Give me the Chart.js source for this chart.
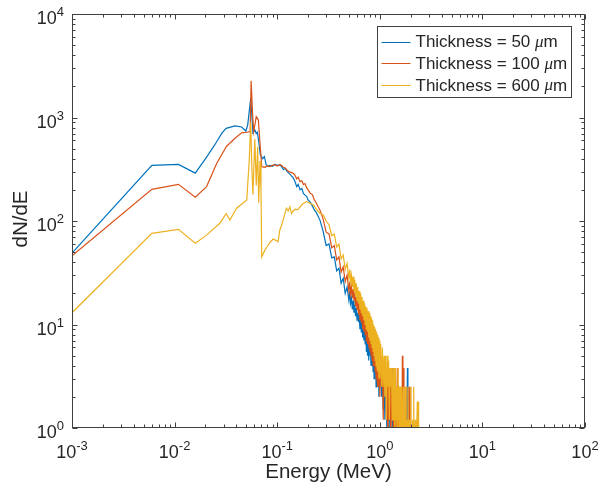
<!DOCTYPE html>
<html>
<head>
<meta charset="utf-8">
<script src="https://cdn.jsdelivr.net/npm/chart.js@4.4.0/dist/chart.umd.min.js"></script>
<style>
  html, body { margin: 0; padding: 0; background: #fff; }
  #wrap { width: 601px; height: 492px; }
</style>
</head>
<body>
<div id="wrap"><canvas id="chart" width="601" height="492"></canvas></div>
<script>
// Energy spectra (E in MeV, dN/dE)
const thicknesses = [50, 100, 600];
const seriesColors = ['#0072BD', '#D95319', '#EDB120'];

// low-energy part, one grid per thickness
const energy50 = [0.001, 0.006, 0.0109, 0.0159, 0.0205, 0.0245, 0.029, 0.0318, 0.0388, 0.045, 0.0495, 0.0516, 0.0552, 0.0565, 0.058, 0.0605, 0.0625, 0.064, 0.066, 0.0685, 0.072, 0.075, 0.078, 0.082, 0.086, 0.09, 0.095, 0.1, 0.106, 0.11, 0.115, 0.12, 0.125, 0.13, 0.136, 0.142, 0.148, 0.155, 0.16, 0.167, 0.174, 0.18, 0.187, 0.194, 0.2, 0.21, 0.22, 0.23, 0.24, 0.25, 0.261];
const counts50 = [49, 345, 352, 290, 415, 540, 710, 785, 830, 810, 740, 850, 1530, 1100, 710, 760, 700, 720, 590, 435, 400, 420, 350, 340, 345, 338, 352, 345, 348, 335, 315, 322, 300, 290, 276, 265, 245, 215, 226, 200, 206, 185, 178, 172, 160, 152, 140, 128, 121, 112, 102];

const energy100 = [0.001, 0.006, 0.0109, 0.0159, 0.0205, 0.0257, 0.032, 0.0388, 0.045, 0.0505, 0.0545, 0.0557, 0.0575, 0.059, 0.0625, 0.0655, 0.068, 0.0707, 0.076, 0.08, 0.085, 0.09, 0.095, 0.1, 0.106, 0.11, 0.115, 0.12, 0.125, 0.13, 0.136, 0.142, 0.148, 0.155, 0.16, 0.167, 0.174, 0.18, 0.187, 0.194, 0.2, 0.21, 0.22, 0.23, 0.24, 0.25, 0.261];
const counts100 = [46, 202, 226, 170, 215, 360, 525, 630, 710, 720, 730, 2270, 1100, 730, 1020, 950, 560, 335, 330, 340, 335, 345, 350, 340, 350, 345, 330, 325, 310, 300, 295, 290, 280, 255, 265, 240, 245, 225, 230, 209, 200, 185, 180, 160, 150, 138, 128];

const energy600 = [0.001, 0.006, 0.0109, 0.0159, 0.0205, 0.0276, 0.0318, 0.0346, 0.0402, 0.0505, 0.0535, 0.0552, 0.0565, 0.058, 0.0605, 0.0625, 0.0645, 0.066, 0.068, 0.0695, 0.0707, 0.0757, 0.08, 0.085, 0.0913, 0.097, 0.102, 0.106, 0.11, 0.115, 0.123, 0.128, 0.133, 0.138, 0.143, 0.15, 0.158, 0.167, 0.175, 0.185, 0.194, 0.2, 0.21, 0.226, 0.24, 0.25, 0.261];
const counts600 = [13, 76, 83, 61, 73, 95, 118, 102, 133, 160, 400, 900, 350, 180, 620, 220, 520, 150, 380, 200, 45, 52, 57, 62, 67, 65, 63, 82, 90, 105, 133, 125, 137, 118, 125, 130, 128, 137, 145, 150, 154, 152, 148, 143, 130, 125, 118];

// noisy high-energy tail on a shared grid (0.5 = empty bin, drops below the axis)
const tailEnergy = [
    0.28, 0.30, 0.32, 0.34, 0.36, 0.38, 0.40, 0.42, 0.44, 0.46, 0.48,
    0.50, 0.51, 0.52, 0.53, 0.54, 0.55, 0.56, 0.57, 0.58, 0.59,
    0.60, 0.61, 0.62, 0.63, 0.64, 0.65, 0.66, 0.67, 0.68, 0.69,
    0.70, 0.71, 0.72, 0.73, 0.74, 0.75, 0.76, 0.77, 0.78, 0.79,
    0.80, 0.81, 0.82, 0.83, 0.84, 0.85, 0.86, 0.87, 0.88, 0.89,
    0.90, 0.91, 0.92, 0.93, 0.94, 0.95, 0.96, 0.97, 0.98, 0.99,
    1.00, 1.02, 1.04, 1.06, 1.08, 1.10, 1.12, 1.14, 1.16, 1.18,
    1.20, 1.22, 1.24, 1.26, 1.28, 1.30, 1.32, 1.34, 1.36, 1.38,
    1.40, 1.42, 1.44, 1.46, 1.48, 1.50, 1.52, 1.54, 1.56, 1.58,
    1.60, 1.62, 1.64, 1.66, 1.68, 1.70, 1.72, 1.74, 1.76, 1.78,
    1.80, 1.82, 1.84, 1.86, 1.88, 1.90, 1.92, 1.94, 1.96, 1.98,
    2.00, 2.02, 2.04, 2.06, 2.08, 2.10, 2.12, 2.14, 2.16, 2.18,
    2.20, 2.22, 2.24, 2.26, 2.28, 2.30, 2.32, 2.34, 2.36, 2.38,
    2.40, 2.42, 2.44
];
const tail50 = [
    80, 58, 60, 44, 45, 33, 35, 25, 28, 20, 23,
    17, 21, 16, 18, 14, 17, 13, 15.5, 12, 14.5,
    11, 13, 10.5, 12.5, 9, 11.5, 8.5, 10.5, 7.5, 9.5,
    7, 9, 6.5, 8.5, 5.5, 8, 5, 7.5, 4.5, 7,
    5, 6.5, 4, 6.5, 4, 6, 3.5, 5.5, 3, 5.5,
    3.5, 5, 2.5, 5, 3, 4.5, 2.5, 4.5, 2, 4,
    2.5, 4, 2, 3.5, 1.5, 3.5, 1.2, 3, 2, 0.5,
    3, 1.2, 2.5, 0.5, 2.5, 1.2, 3.8, 0.5, 2.5, 0.5,
    1.2, 2.5, 0.5, 1.2, 0.5, 2.5, 0.5, 0.5, 1.2, 0.5,
    0.5, 1.2, 0.5, 0.5, 2.5, 0.5, 0.5, 0.5, 1.2, 0.5,
    0.5, 0.5, 0.5, 3.8, 0.5
];
const tail100 = [
    105, 78, 75, 55, 58, 42, 45, 32, 36, 26, 30,
    21, 26, 20, 23, 18, 22, 17, 20, 15, 18.5,
    14, 17, 12.5, 16, 11, 14.5, 10.5, 14, 9, 13,
    8.5, 12, 8, 11, 7, 11, 6.5, 10, 6, 9.5,
    5.5, 9, 5, 8.5, 4.5, 8.5, 4, 7.5, 4, 7,
    3.5, 7, 3, 6.5, 3, 6, 2.5, 6, 2.5, 5.5,
    2, 5, 2.5, 4.5, 1.2, 4.5, 2.5, 3.8, 1.2, 3.8,
    0.5, 3.8, 1.2, 3.8, 0.5, 2.5, 1.2, 3.8, 0.5, 2.5,
    1.2, 0.5, 2.5, 0.5, 3.8, 0.5, 1.2, 2.5, 0.5, 1.2,
    0.5, 2.5, 0.5, 5, 0.5, 3.8, 0.5, 1.2, 0.5, 0.5,
    2.5, 0.5, 0.5, 1.2, 0.5, 0.5, 2.5, 0.5, 0.5, 2.5,
    0.5
];
const tail600 = [
    115, 100, 92, 72, 75, 56, 60, 43, 47, 34, 39,
    28, 34, 26, 30, 23, 29, 21, 27, 19, 25,
    17, 23, 16, 21, 14, 20, 13, 18.5, 12, 17,
    11, 16, 10, 15, 9, 14.5, 8.5, 13.5, 7.5, 13,
    7, 12, 6.5, 11.5, 6, 11, 5.5, 10, 5, 9.5,
    4.5, 9, 4, 8.5, 3.8, 8, 3.5, 7.5, 3, 7,
    3, 6.5, 2.5, 6, 2.5, 5, 2, 5, 1.2, 5,
    2.5, 4.5, 1.2, 3.8, 2.5, 3.8, 1.2, 3.8, 1.2, 3.8,
    0.5, 3.8, 1.2, 2.5, 0.5, 3.8, 1.2, 2.5, 0.5, 2.5,
    1.2, 0.5, 2.5, 0.5, 1.2, 2.5, 0.5, 1.2, 0.5, 2.5,
    0.5, 0.5, 1.2, 0.5, 2.5, 0.5, 0.5, 1.2, 0.5, 0.5,
    2.5, 0.5, 0.5, 0.5, 1.2, 0.5, 0.5, 2.5, 0.5, 0.5,
    0.5, 1.2, 0.5, 0.5, 0.5, 0.5, 1.8, 0.5, 0.5, 1.8,
    0.5, 0.5, 0.5
];

// axes
const xDecades = [-3, -2, -1, 0, 1, 2];
const yDecades = [0, 1, 2, 3, 4];
const tickSteps = [1, 2, 3, 4, 5, 6, 7, 8, 9];
const xTitle = 'Energy (MeV)';
const yTitle = 'dN/dE';

const axisColor = '#404040';
const textColor = '#262626';
const sans = "'Liberation Sans', Arial, Helvetica, sans-serif";

function toPoints(es, cs, tail) {
    const pts = es.map((e, i) => ({ x: e, y: cs[i] }));
    tail.forEach((v, i) => pts.push({ x: tailEnergy[i], y: v }));
    return pts;
}

const seriesData = [
    toPoints(energy50, counts50, tail50),
    toPoints(energy100, counts100, tail100),
    toPoints(energy600, counts600, tail600)
];

// MATLAB-style box, inward ticks, 10^n labels and legend
const matlabAxes = {
    id: 'matlabAxes',
    afterDatasetsDraw(chart) {
        const { ctx, chartArea: a } = chart;
        const xs = chart.scales.x, ys = chart.scales.y;
        const L = Math.round(a.left) + 0.5, R = Math.round(a.right) - 0.5;
        const T = Math.round(a.top) + 0.5, B = Math.round(a.bottom) - 0.5;

        ctx.save();
        ctx.strokeStyle = axisColor;
        ctx.lineWidth = 1;
        ctx.strokeRect(L, T, R - L, B - T);

        ctx.beginPath();
        xDecades.forEach(d => tickSteps.forEach(m => {
            const v = m * Math.pow(10, d);
            if (v > xs.max * 1.0001) return;
            const px = Math.round(xs.getPixelForValue(v)) + 0.5;
            const len = m === 1 ? 5 : 3;
            ctx.moveTo(px, B); ctx.lineTo(px, B - len);
            ctx.moveTo(px, T); ctx.lineTo(px, T + len);
        }));
        yDecades.forEach(d => tickSteps.forEach(m => {
            const v = m * Math.pow(10, d);
            if (v > ys.max * 1.0001) return;
            const py = Math.round(ys.getPixelForValue(v)) + 0.5;
            const len = m === 1 ? 5 : 3;
            ctx.moveTo(L, py); ctx.lineTo(L + len, py);
            ctx.moveTo(R, py); ctx.lineTo(R - len, py);
        }));
        ctx.stroke();

        // tick labels
        ctx.fillStyle = textColor;
        ctx.textBaseline = 'alphabetic';
        const baseFont = '18px ' + sans, supFont = '13px ' + sans;
        xDecades.forEach(d => {
            const px = xs.getPixelForValue(Math.pow(10, d));
            ctx.font = baseFont;
            const wb = ctx.measureText('10').width;
            ctx.font = supFont;
            const ws = ctx.measureText(String(d)).width;
            const x0 = px - (wb + ws) / 2;
            ctx.textAlign = 'left';
            ctx.font = baseFont;
            ctx.fillText('10', x0, a.bottom + 30);
            ctx.font = supFont;
            ctx.fillText(String(d), x0 + wb, a.bottom + 22);
        });
        yDecades.forEach(d => {
            const py = ys.getPixelForValue(Math.pow(10, d));
            ctx.font = supFont;
            const ws = ctx.measureText(String(d)).width;
            const xr = a.left - 8;
            ctx.textAlign = 'right';
            ctx.fillText(String(d), xr, py + 2);
            ctx.font = baseFont;
            ctx.fillText('10', xr - ws, py + 10);
        });

        // axis titles
        ctx.font = '20.5px ' + sans;
        ctx.textAlign = 'center';
        ctx.fillText(xTitle, (a.left + a.right) / 2, a.bottom + 50);
        ctx.save();
        ctx.translate(21, (a.top + a.bottom) / 2 - 2);
        ctx.rotate(-Math.PI / 2);
        ctx.textBaseline = 'middle';
        ctx.fillText(yTitle, 0, 0);
        ctx.restore();

        // legend
        const lx = 377.5, ly = 26.5, lw = 194, lh = 71;
        ctx.fillStyle = '#fff';
        ctx.fillRect(lx, ly, lw, lh);
        ctx.strokeStyle = axisColor;
        ctx.strokeRect(lx, ly, lw, lh);
        const rows = [15.2, 36.8, 58.5];
        thicknesses.forEach((t, i) => {
            const ry = ly + rows[i];
            ctx.strokeStyle = seriesColors[i];
            ctx.beginPath();
            ctx.moveTo(lx + 4, Math.round(ry) + 0.5);
            ctx.lineTo(lx + 33, Math.round(ry) + 0.5);
            ctx.stroke();
            ctx.fillStyle = textColor;
            ctx.textAlign = 'left';
            ctx.textBaseline = 'middle';
            let tx = lx + 38;
            const part1 = 'Thickness = ' + t + ' ';
            ctx.font = '17px ' + sans;
            ctx.fillText(part1, tx, ry + 1);
            tx += ctx.measureText(part1).width;
            ctx.font = "italic 17px 'Liberation Serif', 'Times New Roman', serif";
            ctx.fillText('\u03bc', tx, ry + 1);
            tx += ctx.measureText('\u03bc').width;
            ctx.font = '17px ' + sans;
            ctx.fillText('m', tx, ry + 1);
        });
        ctx.restore();
    }
};

new Chart(document.getElementById('chart'), {
    type: 'line',
    data: {
        datasets: thicknesses.map((t, i) => ({
            label: 'Thickness = ' + t + ' \u03bcm',
            data: seriesData[i],
            borderColor: seriesColors[i],
            backgroundColor: seriesColors[i],
            borderWidth: 1.2,
            pointRadius: 0,
            tension: 0,
            fill: false,
            order: 2 - i
        }))
    },
    options: {
        responsive: false,
        animation: false,
        devicePixelRatio: 1,
        layout: { padding: { left: 72, top: 14, right: 16, bottom: 64 } },
        plugins: { legend: { display: false }, tooltip: { enabled: false } },
        scales: {
            x: { type: 'logarithmic', min: 1e-3, max: 1e2, display: false },
            y: { type: 'logarithmic', min: 1, max: 1e4, display: false }
        }
    },
    plugins: [matlabAxes]
});
</script>
</body>
</html>
